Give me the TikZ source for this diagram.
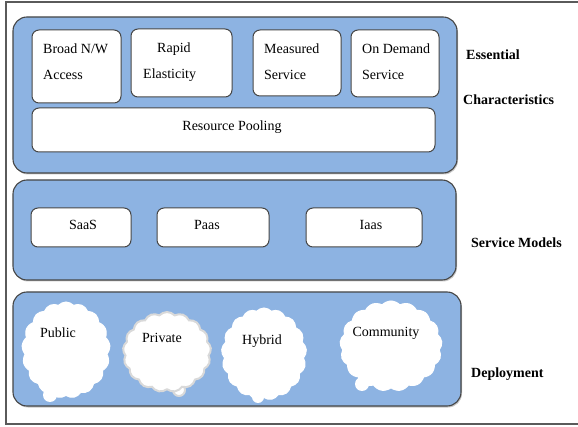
\documentclass[tikz,border=0pt]{standalone}
\usepackage{fontspec}
\setmainfont{Liberation Serif}
\usetikzlibrary{shapes.symbols,shadows}
\definecolor{layerblue}{RGB}{141,179,226}
\definecolor{edgegray}{RGB}{70,70,70}
\definecolor{framegray}{RGB}{90,90,90}
\begin{document}
\begin{tikzpicture}[x=1pt,y=-1pt,
  layer/.style={draw=edgegray, line width=1.1pt, fill=layerblue, rounded corners=14pt,
    inner sep=0pt, drop shadow={shadow xshift=1pt, shadow yshift=-1.5pt, opacity=0.45}},
  item/.style={draw=edgegray, line width=1pt, fill=white, rounded corners=7pt, inner sep=0pt},
  lbl/.style={font=\fontsize{14}{26}\selectfont, text=black, inner sep=0pt},
  ttl/.style={font=\fontsize{14}{18}\selectfont\bfseries, text=black, inner sep=0pt, anchor=west},
  puff/.style={cloud, cloud puffs=17, cloud puff arc=95, cloud ignores aspect, fill=white, draw=white, line width=1pt, inner sep=0pt},
  framerule/.style={draw=framegray, line width=1.2pt}
]
\useasboundingbox (0,0) rectangle (578,427);
% outer frame
\coordinate (ftl) at (6,2);
\coordinate (ftr) at (578,2);
\coordinate (fbl) at (6,424);
\coordinate (fbr) at (578,424);
\draw[framerule] (ftr) -- (ftl) -- (fbl) -- (fbr);

% layers
\node[layer, minimum width=444pt, minimum height=156pt] (ess) at (235,95) {};
\node[layer, minimum width=443pt, minimum height=100pt] (svc) at (234.5,230) {};
\node[layer, minimum width=448pt, minimum height=114pt] (dep) at (237,349) {};

% essential characteristics
\node[item, minimum width=89pt, minimum height=73pt] (broad) at (76.5,66.5) {};
\node[item, minimum width=101pt, minimum height=68pt] (rapid) at (181.5,63) {};
\node[item, minimum width=88pt, minimum height=66pt] (meas) at (297,63) {};
\node[item, minimum width=88pt, minimum height=67pt] (ondem) at (395,63.5) {};
\node[item, minimum width=403pt, minimum height=44pt] (pool) at (233.5,130) {};

\node[lbl, align=left, anchor=west] (broadt) at (43,62) {Broad N/W\\Access};
\node[lbl, align=left, anchor=west] (rapidt) at (143,62) {\hspace{14pt}Rapid\\Elasticity};
\node[lbl, align=left, anchor=west] (meast) at (264,62) {Measured\\Service};
\node[lbl, align=left, anchor=west] (ondemt) at (362,62) {On Demand\\Service};
\node[lbl] (poolt) at (232,127) {Resource Pooling};

% service models
\node[item, minimum width=100pt, minimum height=39pt] (saas) at (81,227.5) {};
\node[item, minimum width=112pt, minimum height=39pt] (paas) at (213,227.5) {};
\node[item, minimum width=116pt, minimum height=39pt] (iaas) at (364,227.5) {};
\node[lbl] (saast) at (83,225) {SaaS};
\node[lbl] (paast) at (207,225) {Paas};
\node[lbl] (iaast) at (371,225) {Iaas};

% deployment clouds
\fill[white] (50,395) circle (7);
\node[puff, minimum width=88pt, minimum height=96pt] (pubc) at (66,350) {};
\fill[white] (258,397) circle (6);
\node[puff, minimum width=85pt, minimum height=92pt] (hybc) at (264,354) {};
\fill[white] (362,384) circle (7);
\node[puff, minimum width=102pt, minimum height=90pt] (comc) at (391,346) {};
\draw[gray!30, line width=2pt, fill=white] (179,390) circle (6);
\node[puff, draw=gray!30, line width=2pt, minimum width=88pt, minimum height=80pt] (pric) at (167,352) {};

\node[lbl] (pubt) at (58,333) {Public};
\node[lbl] (prit) at (162,338) {Private};
\node[lbl] (hybt) at (262,341) {Hybrid};
\node[lbl] (comt) at (386,333) {Community};

% titles
\node[ttl] (t1) at (466,55) {Essential};
\node[ttl] (t2) at (463,100) {Characteristics};
\node[ttl] (t3) at (471,243) {Service Models};
\node[ttl] (t4) at (471,374) {Deployment};
\end{tikzpicture}
\end{document}
